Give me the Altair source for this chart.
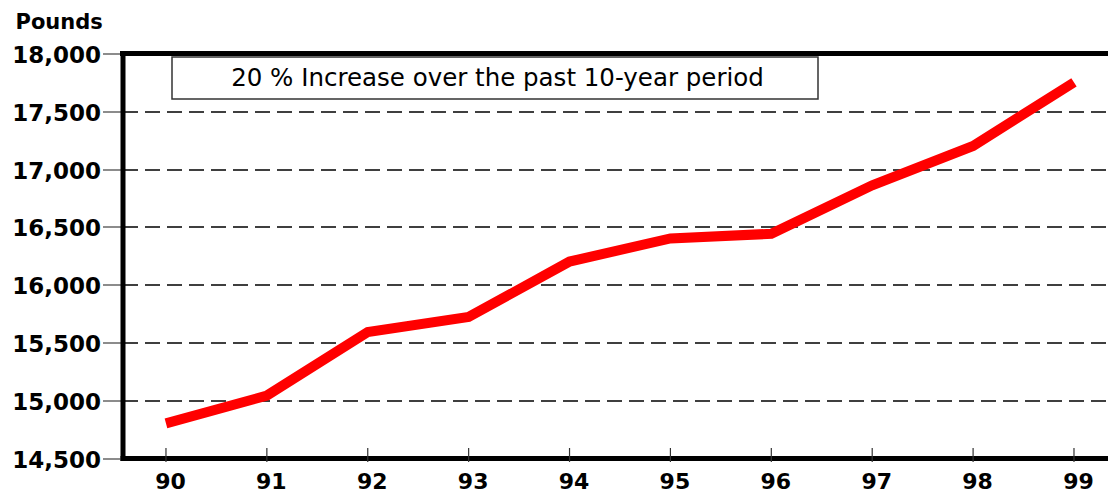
import altair as alt
import pandas as pd

years = ["90", "91", "92", "93", "94", "95", "96", "97", "98", "99"]
pounds = [14800, 15040, 15590, 15720, 16200, 16400, 16440, 16860, 17200, 17750]
y_ticks = [14500, 15000, 15500, 16000, 16500, 17000, 17500, 18000]
note = "20 % Increase over the past 10-year period"

df = pd.DataFrame({"year": years, "pounds": pounds})

W = 985.5
H = 404.5
FONT = "DejaVu Sans"

xscale = alt.Scale(type="point", padding=0.384, align=0.561)
yscale = alt.Scale(domain=[14500, 18000], zero=False, nice=False)

x_enc = alt.X(
    "year:O",
    scale=xscale,
    sort=years,
    axis=alt.Axis(
        title=None,
        labelAngle=0,
        labelFont=FONT,
        labelFontWeight="bold",
        labelFontSize=22,
        labelColor="black",
        labelPadding=13,
        labelOffset=4,
        labelBaseline="top",
        ticks=False,
        tickSize=0,
        domainColor="black",
        domainWidth=5,
        domainCap="square",
        grid=False,
    ),
)

y_enc = alt.Y(
    "pounds:Q",
    scale=yscale,
    axis=alt.Axis(
        title="Pounds",
        titleAngle=0,
        titleX=-107.5,
        titleY=-25.5,
        titleAlign="left",
        titleBaseline="alphabetic",
        titleFont=FONT,
        titleFontSize=21,
        titleFontWeight="bold",
        titleColor="black",
        values=y_ticks,
        format=",d",
        labelFont=FONT,
        labelFontWeight="bold",
        labelFontSize=23,
        labelColor="black",
        labelPadding=2,
        labelOffset=2,
        tickSize=20,
        tickColor="#666666",
        tickWidth=1.5,
        domainColor="black",
        domainWidth=5,
        domainCap="square",
        grid=True,
        gridColor="black",
        gridDash=[15, 7],
        gridWidth=1.5,
    ),
)

base = alt.Chart(df)

line = base.mark_line(
    color="#ff0000", strokeWidth=10, strokeCap="butt", strokeJoin="miter"
).encode(x=x_enc, y=y_enc)

xticks = base.mark_rule(color="#333333", strokeWidth=1.2).encode(
    x=alt.X("year:O", scale=xscale, sort=years),
    y=alt.value(H - 10),
    y2=alt.value(H + 4),
)

top_border = alt.Chart(pd.DataFrame({"v": [18000]})).mark_rule(
    color="black", strokeWidth=5, strokeCap="square"
).encode(y=alt.Y("v:Q", scale=yscale))

box = alt.Chart(pd.DataFrame({"t": [note]})).mark_rect(
    fill="white", stroke="#333333", strokeWidth=1.5
).encode(
    x=alt.value(49.5), x2=alt.value(695.5), y=alt.value(3.5), y2=alt.value(45.5)
)

label = alt.Chart(pd.DataFrame({"t": [note]})).mark_text(
    font=FONT, fontSize=24.5, color="black", align="center", baseline="middle"
).encode(text="t:N", x=alt.value(375), y=alt.value(25))

chart = (
    alt.layer(line, xticks, top_border, box, label)
    .properties(
        width=W,
        height=H,
        autosize=alt.AutoSizeParams(type="none"),
        padding={"left": 114.5, "top": 45.5, "right": 0, "bottom": 36},
        background="white",
    )
    .configure_view(stroke=None)
)

chart.save("out.html", embed_options={"renderer": "svg", "actions": False})
